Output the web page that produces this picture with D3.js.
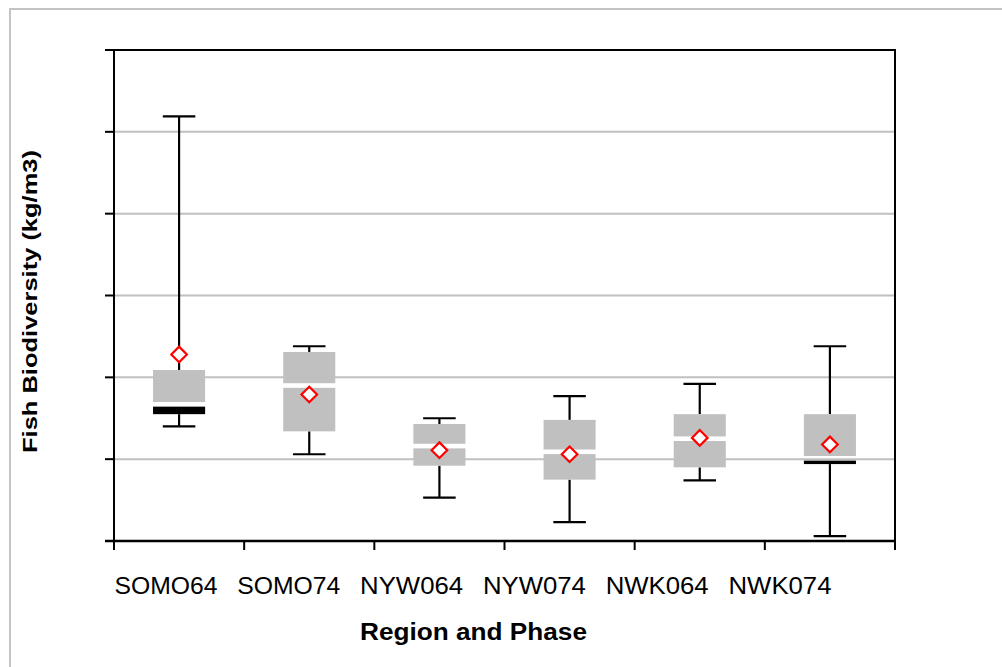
<!DOCTYPE html>
<html>
<head>
<meta charset="utf-8">
<script src="https://cdn.jsdelivr.net/npm/d3@7"></script>
<style>
  html, body { margin: 0; padding: 0; background: #fff; }
  svg { display: block; }
  text { font-family: "Liberation Sans", Arial, sans-serif; fill: #000; }
</style>
</head>
<body>
<svg id="chart" width="1002" height="667"></svg>
<script>
// ---- data ----
const categories = ["SOMO64", "SOMO74", "NYW064", "NYW074", "NWK064", "NWK074"];
const maxValues    = [5.19, 2.38, 1.50, 1.77, 1.92, 2.38];
const q3Values     = [2.09, 2.31, 1.43, 1.48, 1.55, 1.55];
const medianValues = [1.67, 1.90, 1.16, 1.09, 1.25, 1.01];
const q1Values     = [1.55, 1.34, 0.92, 0.75, 0.90, 0.94];
const minValues    = [1.40, 1.06, 0.53, 0.23, 0.74, 0.06];
const meanValues   = [2.28, 1.79, 1.11, 1.06, 1.26, 1.18];
const yTicks = [0, 1, 2, 3, 4, 5, 6];
const xTitle = "Region and Phase";
const yTitle = "Fish  Biodiversity  (kg/m3)";

// ---- layout ----
const svg = d3.select("#chart");
const pLeft = 114, pRight = 895, pTop = 50, pBottom = 541;

const x = d3.scaleBand().domain(categories).range([pLeft, pRight]).padding(0);
const xLabel = d3.scalePoint().domain(categories).range([166, 780]);
const y = d3.scaleLinear().domain([0, 6]).range([pBottom, pTop]);

const rows = categories.map((c, i) => ({
  c, max: maxValues[i], q3: q3Values[i], med: medianValues[i],
  q1: q1Values[i], min: minValues[i], mean: meanValues[i]
}));

// outer chart frame
svg.append("path")
  .attr("d", `M10,667 L10,9 L1002,9`)
  .attr("fill", "none").attr("stroke", "#c4c4c4").attr("stroke-width", 2);

// gridlines
svg.append("g").selectAll("line").data(yTicks.filter(t => t > 0 && t < 6)).join("line")
  .attr("x1", pLeft).attr("x2", pRight)
  .attr("y1", d => y(d)).attr("y2", d => y(d))
  .attr("stroke", "#c0c0c0").attr("stroke-width", 2);

// y axis ticks (no labels)
svg.append("g").selectAll("line").data(yTicks).join("line")
  .attr("x1", pLeft - 9).attr("x2", pLeft)
  .attr("y1", d => y(d)).attr("y2", d => y(d))
  .attr("stroke", "#000").attr("stroke-width", 2);

// x axis ticks at band boundaries
const xEdges = categories.map(c => x(c)).concat([x.range()[1]]);
svg.append("g").selectAll("line").data(xEdges).join("line")
  .attr("x1", d => d).attr("x2", d => d)
  .attr("y1", pBottom).attr("y2", pBottom + 9)
  .attr("stroke", "#000").attr("stroke-width", 2);

// plot border
svg.append("rect")
  .attr("x", pLeft).attr("y", pTop)
  .attr("width", pRight - pLeft).attr("height", pBottom - pTop)
  .attr("fill", "none").attr("stroke", "#000").attr("stroke-width", 2);
svg.append("line")
  .attr("x1", pLeft - 9).attr("x2", pRight)
  .attr("y1", pBottom).attr("y2", pBottom)
  .attr("stroke", "#000").attr("stroke-width", 2.6);

// boxes
const bw = x.bandwidth() * 0.4;
const capW = x.bandwidth() * 0.125;
const gap = 2.3;
const g = svg.append("g").selectAll("g").data(rows).join("g")
  .attr("transform", d => `translate(${x(d.c) + x.bandwidth() / 2},0)`);

// whiskers
g.append("line").attr("x1", 0).attr("x2", 0)
  .attr("y1", d => y(d.max)).attr("y2", d => y(d.q3))
  .attr("stroke", "#000").attr("stroke-width", 2.2);
g.append("line").attr("x1", 0).attr("x2", 0)
  .attr("y1", d => y(d.q1)).attr("y2", d => y(d.min))
  .attr("stroke", "#000").attr("stroke-width", 2.2);
g.append("line").attr("x1", -capW).attr("x2", capW)
  .attr("y1", d => y(d.max)).attr("y2", d => y(d.max))
  .attr("stroke", "#000").attr("stroke-width", 2.2);
g.append("line").attr("x1", -capW).attr("x2", capW)
  .attr("y1", d => y(d.min)).attr("y2", d => y(d.min))
  .attr("stroke", "#000").attr("stroke-width", 2.2);

// upper box (median..q3)
g.append("rect")
  .attr("x", -bw / 2).attr("width", bw)
  .attr("y", d => y(d.q3))
  .attr("height", d => y(d.med) - gap - y(d.q3))
  .attr("fill", "#c0c0c0");
// lower box (q1..median); very thin segments render black
g.append("rect")
  .attr("x", -bw / 2).attr("width", bw)
  .attr("y", d => y(d.med) + gap)
  .attr("height", d => Math.max(0, y(d.q1) - y(d.med) - gap))
  .attr("fill", d => (d.med - d.q1) < 0.2 ? "#000" : "#c0c0c0");

// mean diamonds
const h = 7.8;
g.append("path")
  .attr("d", d => `M0,${y(d.mean) - h} L${h},${y(d.mean)} L0,${y(d.mean) + h} L${-h},${y(d.mean)} Z`)
  .attr("fill", "#fff").attr("stroke", "#ff0000").attr("stroke-width", 2.2);

// category labels
svg.append("g").selectAll("text").data(categories).join("text")
  .attr("x", d => xLabel(d)).attr("y", 594)
  .attr("text-anchor", "middle")
  .attr("textLength", 103).attr("lengthAdjust", "spacingAndGlyphs")
  .style("font-size", "24.5px")
  .text(d => d);

// axis titles
svg.append("text")
  .attr("x", 473.5).attr("y", 640)
  .attr("text-anchor", "middle")
  .attr("textLength", 227).attr("lengthAdjust", "spacingAndGlyphs")
  .style("font-size", "23.5px").style("font-weight", "bold")
  .text(xTitle);

svg.append("text")
  .attr("transform", "translate(37,301.5) rotate(-90)")
  .attr("text-anchor", "middle")
  .attr("textLength", 303).attr("lengthAdjust", "spacingAndGlyphs")
  .style("font-size", "20.5px").style("font-weight", "bold")
  .text(yTitle);
</script>
</body>
</html>
